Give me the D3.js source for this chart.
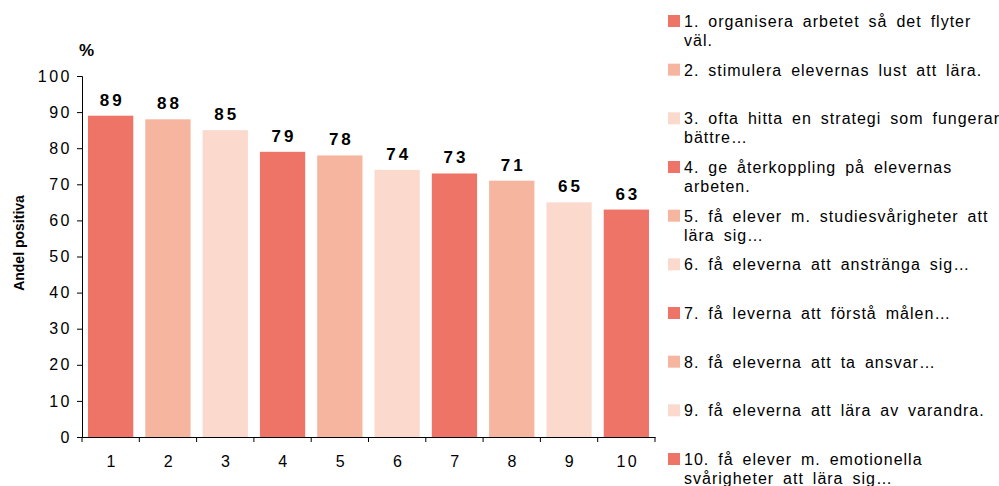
<!DOCTYPE html>
<html>
<head>
<meta charset="utf-8">
<script src="https://cdn.jsdelivr.net/npm/d3@7"></script>
<style>
  body { margin: 0; background: #fff; }
  svg { display: block; font-family: "Liberation Sans", Arial, sans-serif; }
  .tick text { font-size: 16px; letter-spacing: 2.5px; fill: #000; }
  .legend text { font-size: 16px; fill: #000; }
</style>
</head>
<body>
<div id="chart"></div>
<script>
const width = 999;
const height = 486;

// data
const categories = ["1", "2", "3", "4", "5", "6", "7", "8", "9", "10"];
const values = [89, 88, 85, 79, 78, 74, 73, 71, 65, 63];
const yTicks = [0, 10, 20, 30, 40, 50, 60, 70, 80, 90, 100];
const legendLabels = [
  "1. organisera arbetet så det flyter\nväl.",
  "2. stimulera elevernas lust att lära.",
  "3. ofta hitta en strategi som fungerar\nbättre…",
  "4. ge återkoppling på elevernas\narbeten.",
  "5. få elever m. studiesvårigheter att\nlära sig…",
  "6. få eleverna att anstränga sig…",
  "7. få leverna att förstå målen…",
  "8. få eleverna att ta ansvar…",
  "9. få eleverna att lära av varandra.",
  "10. få elever m. emotionella\nsvårigheter att lära sig…"
];
const palette = ["#ee7468", "#f5b59f", "#fbd9cd"];

const svg = d3.select("#chart")
              .append("svg")
              .attr("width", width)
              .attr("height", height);

const x = d3.scaleBand()
            .domain(categories)
            .range([82, 655])
            .paddingInner(0.21)
            .paddingOuter(0.105);

const y = d3.scaleLinear()
            .domain([0, 100])
            .range([437, 76]);

const color = d3.scaleOrdinal()
                .domain(categories)
                .range(palette);

// bars
svg.append("g")
   .selectAll("rect")
   .data(values)
   .enter()
   .append("rect")
   .attr("x", (d, i) => x(categories[i]))
   .attr("y", d => y(d))
   .attr("width", x.bandwidth())
   .attr("height", d => y(0) - y(d))
   .attr("fill", (d, i) => color(categories[i]));

// value labels
svg.append("g")
   .selectAll("text")
   .data(values)
   .enter()
   .append("text")
   .attr("x", (d, i) => x(categories[i]) + x.bandwidth() / 2 + 1.5)
   .attr("y", d => y(d) - 10)
   .attr("text-anchor", "middle")
   .style("font-size", "17px")
   .style("font-weight", "bold")
   .style("letter-spacing", "3px")
   .text(d => d);

// y axis
const yAxis = svg.append("g")
                 .attr("transform", "translate(82,0)")
                 .call(d3.axisLeft(y).tickValues(yTicks).tickSize(5).tickPadding(5));
yAxis.selectAll("line, path").attr("stroke", "#000");

// x axis: labels centred, ticks on band edges
const xAxis = svg.append("g")
                 .attr("transform", `translate(0,${y(0)})`)
                 .call(d3.axisBottom(x).tickSize(0).tickPadding(19));
xAxis.select(".domain").attr("stroke", "#000");
xAxis.selectAll(".tick text").attr("dx", "1.5px");

const edges = categories.map(c => x(c) - x.step() * x.paddingInner() / 2)
                        .concat([x.range()[1]]);
xAxis.selectAll(".edge")
     .data(edges)
     .enter()
     .append("line")
     .attr("class", "edge")
     .attr("x1", d => d)
     .attr("x2", d => d)
     .attr("y1", 0)
     .attr("y2", 5)
     .attr("stroke", "#000");

// titles
svg.append("text")
   .attr("x", 79)
   .attr("y", 56)
   .style("font-size", "17px")
   .style("font-weight", "bold")
   .text("%");

svg.append("text")
   .attr("transform", "translate(24,243) rotate(-90)")
   .attr("text-anchor", "middle")
   .style("font-size", "14px")
   .style("font-weight", "bold")
   .text("Andel positiva");

// legend
const ly = d3.scalePoint()
             .domain(categories)
             .range([27, 465]);

const legend = svg.append("g")
                  .attr("class", "legend")
                  .selectAll("g")
                  .data(legendLabels)
                  .enter()
                  .append("g")
                  .attr("transform", (d, i) => `translate(668,${ly(categories[i])})`);

legend.append("rect")
      .attr("y", -12)
      .attr("width", 12)
      .attr("height", 12)
      .attr("fill", (d, i) => color(categories[i]));

legend.append("text")
      .selectAll("tspan")
      .data(d => d.split("\n"))
      .enter()
      .append("tspan")
      .attr("x", 16)
      .attr("y", (d, i) => i * 19)
      .style("letter-spacing", "1px")
      .style("word-spacing", "3.5px")
      .text(d => d);
</script>
</body>
</html>
